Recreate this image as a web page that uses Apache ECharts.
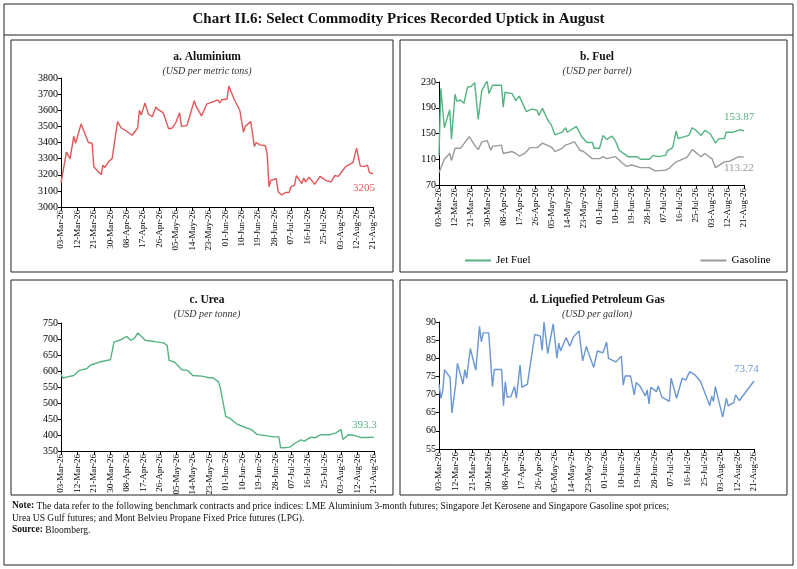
<!DOCTYPE html>
<html><head><meta charset="utf-8">
<script src="https://cdn.jsdelivr.net/npm/echarts@6/dist/echarts.min.js"></script>
<style>html,body{margin:0;padding:0;background:#fff}#c{width:797px;height:569px}</style>
</head><body><div id="c"></div>
<script>
// Category dates: 03-Mar-26 .. 21-Aug-26 (daily)
const startDate = Date.UTC(2026,2,3), nDays = 172;
const monthNames = ['Jan','Feb','Mar','Apr','May','Jun','Jul','Aug','Sep','Oct','Nov','Dec'];
const dates = [];
for (let i=0;i<nDays;i++){const d=new Date(startDate+i*86400000);dates.push(String(d.getUTCDate()).padStart(2,'0')+'-'+monthNames[d.getUTCMonth()]+'-26');}

// a. Aluminium (day offset, value)
const alDays = [0,3,5,7,8,11,14,15,17,18,22,23,24,26,28,31,33,36,39,42,43,44,46,48,50,52,53,56,59,61,63,65,66,69,71,73,74,77,80,84,86,87,88,91,92,95,98,99,100,101,104,106,107,109,112,113,114,115,118,119,121,123,125,126,128,129,132,133,134,136,139,142,145,148,150,152,154,156,160,162,164,166,168,169,171];
const alVals = [3150,3340,3300,3440,3395,3515,3430,3400,3395,3250,3200,3260,3245,3280,3300,3530,3490,3470,3445,3490,3600,3570,3645,3575,3560,3620,3605,3585,3485,3490,3525,3585,3500,3505,3580,3660,3625,3565,3640,3655,3665,3645,3665,3670,3750,3665,3600,3605,3465,3500,3530,3375,3400,3385,3380,3330,3125,3165,3175,3095,3075,3090,3090,3125,3135,3195,3145,3180,3155,3185,3140,3190,3165,3155,3195,3190,3220,3250,3275,3365,3255,3250,3260,3215,3205];

// b. Fuel
const jetDays = [0,1,3,6,7,9,10,12,14,16,18,20,22,24,27,28,30,35,36,37,41,43,45,49,52,55,56,58,61,63,65,69,71,72,77,80,83,86,87,90,92,94,97,99,101,104,106,111,113,118,120,123,127,128,131,133,134,140,142,144,147,149,152,155,157,160,161,165,169,171];
const jetVals = [116,220,159,187,141,211,200,202,197,222,223,229,172,217,232,212,225,225,191,214,212,201,208,184,188,186,178,189,171,163,148,152,159,152,161,145,136,136,127,127,147,141,146,138,124,118,114,114,110,110,116,114,116,123,128,154,142,147,159,155,147,155,150,135,142,142,152,152,156,153.87];
const gasDays = [0,1,3,6,7,9,12,17,20,22,24,27,29,30,35,36,41,43,44,45,48,51,55,58,63,65,69,71,76,79,81,86,90,92,94,99,102,105,108,113,118,121,127,129,133,139,142,147,149,153,155,160,163,168,171];
const gasVals = [89,96,110,119,108,127,127,145,132,125,137,139,124,130,132,119,122,119,122,115,119,128,128,135,129,122,127,132,137,124,122,111,111,114,111,114,106,99,101,97,97,92,93,96,106,113,125,114,119,111,97,106,107,114,113.22];

// c. Urea
const ureaDays = [0,1,3,7,10,14,16,21,27,28,29,32,36,38,40,42,46,50,52,56,58,59,62,66,69,72,77,81,83,86,87,90,92,96,100,104,107,111,116,119,120,122,125,128,131,133,136,139,142,147,150,153,154,157,160,164,167,171];
const ureaVals = [590,578,581,586,602,607,618,628,635,638,691,696,708,696,701,719,696,693,691,688,680,633,628,604,602,586,584,579,579,566,548,458,453,435,425,417,402,399,394,394,360,360,362,375,385,381,392,392,401,401,406,417,386,401,399,392,392,393.3];

// d. LPG
const lpgDays = [0,1,2,3,6,7,9,10,13,14,15,17,20,22,23,24,27,29,30,34,35,36,37,39,41,42,44,45,48,50,51,52,55,56,57,59,62,64,65,66,69,71,73,76,78,80,82,84,85,86,89,91,92,96,97,99,100,101,104,106,107,109,112,113,114,115,118,119,121,125,126,129,132,134,136,139,142,143,147,148,149,150,154,156,157,160,161,163,171];
const lpgVals = [72.9,69,70.8,76.9,74.7,64.9,72.6,78.6,72.9,76.9,74.5,82.7,76.7,88.8,84.5,87,87,72.2,76.9,76.9,66.9,73.5,69.3,69.4,72.2,69,78.1,72,72.9,79.7,83.1,86.6,86.1,82.2,90,81.3,89.5,80,84.2,82,85.7,83.3,85.9,87.5,79.3,83.3,80.2,77.5,77.5,82,81.5,84.5,80,79,78.6,80.6,72.6,75.1,75.1,69.9,73.3,72.4,69.6,71.3,67.4,72,70.8,72.4,69.3,68.1,74.5,69,74.5,74,76.3,75.4,73.6,74,66.9,69.6,68.1,72.2,63.8,69,66.9,67.8,69.9,68.3,73.74];

const pair = (ds,vs)=>ds.map((d,i)=>[dates[d],vs[i]]);
const FONT = '"Liberation Serif","DejaVu Serif",serif';
const c = echarts.init(document.getElementById('c'),null,{renderer:'canvas'});

const grids = [
 {left:61,right:424,top:78,bottom:362},
 {left:439,right:53,top:82,bottom:384},
 {left:61,right:423,top:323,bottom:118},
 {left:439,right:43,top:322,bottom:120}
];
const yCfg = [[3000,3800,100],[70,230,40],[350,750,50],[55,90,5]];
const xAxis = grids.map((g,i)=>({type:'category',gridIndex:i,data:dates,boundaryGap:false,
  axisLine:{lineStyle:{color:'#000'}},axisTick:{interval:8,length:4,lineStyle:{color:'#000'}},
  axisLabel:{interval:8,rotate:90,fontSize:9,color:'#000',fontFamily:FONT,margin:3}}));
const yAxis = yCfg.map((y,i)=>({type:'value',gridIndex:i,min:y[0],max:y[1],interval:y[2],
  splitLine:{show:false},axisLine:{show:true,lineStyle:{color:'#000'}},axisTick:{show:true,length:3,lineStyle:{color:'#000'}},
  axisLabel:{fontSize:10,color:'#000',fontFamily:FONT,margin:3,formatter:v=>String(v)}}));

function ser(name,data,idx,color,labelOffset){
  const lastVal=data[data.length-1][1];
  return {name,type:'line',xAxisIndex:idx,yAxisIndex:idx,showSymbol:false,symbol:'none',
    lineStyle:{color,width:1.4},itemStyle:{color},data,
    endLabel:{show:true,offset:labelOffset,color,fontSize:11,fontFamily:FONT,formatter:()=>String(lastVal)},
    animation:false};
}
const titles = [
 ['a. Aluminium','(USD per metric tons)',202],
 ['b. Fuel','(USD per barrel)',592],
 ['c. Urea','(USD per tonne)',202],
 ['d. Liquefied Petroleum Gas','(USD per gallon)',592]
];
const tops=[46,46,289,289];
c.setOption({
 animation:false,
 title:titles.map((t,i)=>({text:t[0],subtext:t[1],left:t[2],top:tops[i],textAlign:'center',itemGap:3,
   textStyle:{fontFamily:FONT,fontSize:11.5,fontWeight:'bold',color:'#111'},
   subtextStyle:{fontFamily:FONT,fontSize:10,fontStyle:'italic',color:'#333'}})),
 legend:{data:['Jet Fuel','Gasoline'],left:460,top:250,itemGap:170,itemWidth:26,itemHeight:2,icon:'rect',
   textStyle:{fontFamily:FONT,fontSize:11,color:'#000'}},
 grid:grids,xAxis,yAxis,
 series:[
  ser('Aluminium',pair(alDays,alVals),0,'#e0585a',[-28,14]),
  ser('Jet Fuel',pair(jetDays,jetVals),1,'#55b383',[-28,-14]),
  ser('Gasoline',pair(gasDays,gasVals),1,'#9a9a9a',[-28,11]),
  ser('Urea',pair(ureaDays,ureaVals),2,'#55b383',[-30,-12]),
  ser('LPG',pair(lpgDays,lpgVals),3,'#6a97d4',[-28,-12])
 ],
 graphic:[
  {type:'rect',shape:{x:4,y:4,width:789,height:561},style:{fill:'none',stroke:'#222',lineWidth:1}},
  {type:'text',left:'center',top:12,style:{text:'Chart II.6: Select Commodity Prices Recorded Uptick in August',font:'bold 15px '+FONT,fill:'#111'}},
  {type:'line',shape:{x1:4,y1:35,x2:793,y2:35},style:{stroke:'#222',lineWidth:1}},
  {type:'rect',shape:{x:11,y:40,width:382,height:232},style:{fill:'none',stroke:'#222',lineWidth:1}},
  {type:'rect',shape:{x:400,y:40,width:387,height:232},style:{fill:'none',stroke:'#222',lineWidth:1}},
  {type:'rect',shape:{x:11,y:280,width:382,height:215},style:{fill:'none',stroke:'#222',lineWidth:1}},
  {type:'rect',shape:{x:400,y:280,width:387,height:215},style:{fill:'none',stroke:'#222',lineWidth:1}},
  {type:'text',left:12,top:500,style:{text:'{b|Note:} The data refer to the following benchmark contracts and price indices: LME Aluminium 3-month futures; Singapore Jet Kerosene and Singapore Gasoline spot prices;\nUrea US Gulf futures; and Mont Belvieu Propane Fixed Price futures (LPG).\n{b|Source:} Bloomberg.',
    font:'9.5px '+FONT,fill:'#111',lineHeight:12,rich:{b:{fontWeight:'bold',fontFamily:FONT,fontSize:9.5}}}}
 ]
});
</script></body></html>
